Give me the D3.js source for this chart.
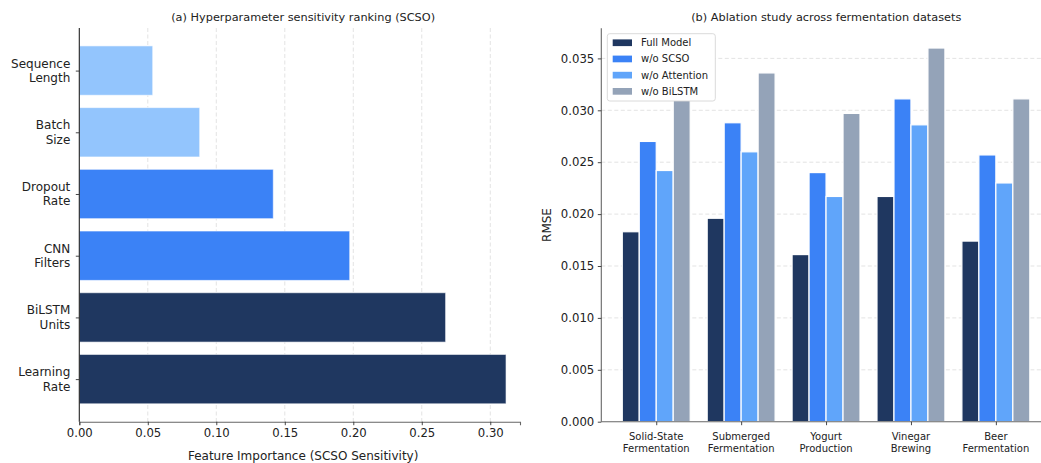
<!DOCTYPE html>
<html>
<head>
<meta charset="utf-8">
<script src="https://cdn.jsdelivr.net/npm/d3@7"></script>
<style>
  html, body { margin: 0; padding: 0; background: #fff; }
  svg { display: block; font-family: "DejaVu Sans", sans-serif; }
  svg text { font-family: "DejaVu Sans", sans-serif; }
</style>
</head>
<body>
<svg id="chart" width="1041" height="463"></svg>
<script>
// ---------- Data ----------
// Panel (a): ordered bottom -> top
const hyperParams = ["Learning\nRate", "BiLSTM\nUnits", "CNN\nFilters", "Dropout\nRate", "Batch\nSize", "Sequence\nLength"];
const sensitivity = [0.3115, 0.2674, 0.1974, 0.1416, 0.0879, 0.0536];
const sensitivityTicks = [0.00, 0.05, 0.10, 0.15, 0.20, 0.25, 0.30];

// Panel (b)
const datasets = ["Solid-State\nFermentation", "Submerged\nFermentation", "Yogurt\nProduction", "Vinegar\nBrewing", "Beer\nFermentation"];
const variants = ["Full Model", "w/o SCSO", "w/o Attention", "w/o BiLSTM"];
const rmseFull      = [0.0183, 0.0196, 0.0161, 0.0217, 0.0174];
const rmseNoSCSO    = [0.0270, 0.0288, 0.0240, 0.0311, 0.0257];
const rmseNoAttn    = [0.0242, 0.0260, 0.0217, 0.0286, 0.0230];
const rmseNoBiLSTM  = [0.0312, 0.0336, 0.0297, 0.0360, 0.0311];
const rmseTicks = [0.000, 0.005, 0.010, 0.015, 0.020, 0.025, 0.030, 0.035];

// ---------- Styles ----------
const FONT = '"DejaVu Sans", sans-serif';
const NAVY = "#1f3760", BLUE = "#3b82f6", LBLUE = "#60a5fa", PALE = "#93c5fd", GRAY = "#94a3b8";
const barColorsA = [NAVY, NAVY, BLUE, BLUE, PALE, PALE];
const variantColors = [NAVY, BLUE, LBLUE, GRAY];
const seriesB = [rmseFull, rmseNoSCSO, rmseNoAttn, rmseNoBiLSTM];

const svg = d3.select("#chart");
const TICK_FS = 11.7;

function styleAxis(g, color) {
  g.attr("font-family", FONT).attr("font-size", TICK_FS);
  g.select(".domain").attr("stroke", color).attr("stroke-width", 1.1);
  g.selectAll(".tick line").attr("stroke", "#333").attr("stroke-width", 0.9);
  g.selectAll(".tick text").attr("fill", "#222").attr("font-size", TICK_FS).attr("font-family", FONT);
}

// ---------- Panel (a) ----------
{
  const x = d3.scaleLinear().domain([0, 0.3217]).range([79.3, 520]);
  const y = d3.scaleLinear().domain([-0.69, 5.69]).range([421.7, 28]);
  const g = svg.append("g");

  // grid
  g.append("g").selectAll("line").data(sensitivityTicks.slice(1)).join("line")
    .attr("x1", d => x(d)).attr("x2", d => x(d))
    .attr("y1", y(5.69)).attr("y2", y(-0.69))
    .attr("stroke", "#dcdcdc").attr("stroke-width", 0.8).attr("stroke-dasharray", "4,2.5");

  // bars
  const h = y(0) - y(0.8);
  g.append("g").selectAll("rect").data(sensitivity).join("rect")
    .attr("x", x(0))
    .attr("y", (d, i) => y(i + 0.4))
    .attr("width", d => x(d) - x(0))
    .attr("height", h)
    .attr("fill", (d, i) => barColorsA[i])
    .attr("stroke", "#ffffff").attr("stroke-opacity", 0.6).attr("stroke-width", 1);

  // x axis
  const xa = g.append("g").attr("transform", `translate(0,${y(-0.69)})`)
    .call(d3.axisBottom(x).tickValues(sensitivityTicks).tickFormat(d3.format(".2f")).tickSize(3.5).tickPadding(3.5));
  styleAxis(xa, "#666");

  // y axis
  const ya = g.append("g").attr("transform", `translate(${x(0)},0)`)
    .call(d3.axisLeft(y).tickValues(d3.range(hyperParams.length)).tickFormat("").tickSize(3.5));
  styleAxis(ya, "#222");
  ya.select(".domain").attr("d", `M0,${y(5.69)}V${y(-0.69)}`);

  // y labels (two lines)
  const labs = g.append("g").selectAll("text").data(hyperParams).join("text")
    .attr("x", x(0) - 9)
    .attr("y", (d, i) => y(i))
    .attr("text-anchor", "end").attr("font-size", 12).attr("fill", "#222");
  labs.each(function(d) {
    const lines = d.split("\n");
    const t = d3.select(this);
    lines.forEach((ln, k) => {
      t.append("tspan").attr("x", x(0) - 9)
        .attr("dy", k === 0 ? `${-0.6 * (lines.length - 1) + 0.35}em` : "1.2em")
        .text(ln);
    });
  });

  g.append("text").attr("x", (79.3 + 520) / 2 + 3.5).attr("y", 20.5)
    .attr("text-anchor", "middle").attr("font-size", 11.3).attr("fill", "#222")
    .text("(a) Hyperparameter sensitivity ranking (SCSO)");
  g.append("text").attr("x", (79.3 + 520) / 2 + 3.5).attr("y", 459.5)
    .attr("text-anchor", "middle").attr("font-size", 12).attr("fill", "#222")
    .text("Feature Importance (SCSO Sensitivity)");
}

// ---------- Panel (b) ----------
{
  const x = d3.scaleLinear().domain([-0.647, 4.64]).range([601.3, 1050.2]);
  const y = d3.scaleLinear().domain([0, 0.0379]).range([421.7, 28.3]);
  const g = svg.append("g");

  // grid
  g.append("g").selectAll("line").data(rmseTicks.slice(1)).join("line")
    .attr("x1", x(-0.647)).attr("x2", x(4.64))
    .attr("y1", d => y(d)).attr("y2", d => y(d))
    .attr("stroke", "#dcdcdc").attr("stroke-width", 0.8).attr("stroke-dasharray", "4,2.5");

  const bw = 0.2;
  seriesB.forEach((vals, s) => {
    g.append("g").selectAll("rect").data(vals).join("rect")
      .attr("x", (d, i) => x(i + (s - 2) * bw))
      .attr("y", d => y(d))
      .attr("width", x(bw) - x(0))
      .attr("height", d => y(0) - y(d))
      .attr("fill", variantColors[s])
      .attr("stroke", "#ffffff").attr("stroke-width", 1.2);
  });

  // x axis
  const xa = g.append("g").attr("transform", `translate(0,${y(0)})`)
    .call(d3.axisBottom(x).tickValues(d3.range(datasets.length)).tickFormat("").tickSize(3.5));
  styleAxis(xa, "#666");
  xa.select(".domain").attr("d", `M${x(-0.647)},0H${x(4.64)}`);

  const cl = g.append("g").selectAll("text").data(datasets).join("text")
    .attr("y", y(0) + 18).attr("text-anchor", "middle").attr("font-size", 10).attr("fill", "#222");
  cl.each(function(d, i) {
    const t = d3.select(this);
    d.split("\n").forEach((ln, k) => {
      t.append("tspan").attr("x", x(i)).attr("dy", k === 0 ? 0 : "1.23em").text(ln);
    });
  });

  // y axis
  const ya = g.append("g").attr("transform", `translate(${x(-0.647)},0)`)
    .call(d3.axisLeft(y).tickValues(rmseTicks).tickFormat(d3.format(".3f")).tickSize(3.5).tickPadding(3.5));
  styleAxis(ya, "#666");
  ya.select(".domain").attr("d", `M0,${y(0.0379)}V${y(0)}`);

  g.append("text").attr("transform", `translate(551,${(28.3 + 421.7) / 2}) rotate(-90)`)
    .attr("text-anchor", "middle").attr("font-size", 12).attr("fill", "#222").text("RMSE");

  g.append("text").attr("x", 826.3).attr("y", 20.5)
    .attr("text-anchor", "middle").attr("font-size", 11.3).attr("fill", "#222")
    .text("(b) Ablation study across fermentation datasets");

  // legend
  const lg = g.append("g").attr("transform", "translate(607.3,33.7)");
  lg.append("rect").attr("width", 108).attr("height", 67.3).attr("rx", 2.5)
    .attr("fill", "#fff").attr("stroke", "#d6d6d6").attr("stroke-width", 0.9);
  variants.forEach((v, i) => {
    const cy = 9 + i * 16.2;
    lg.append("rect").attr("x", 5.4).attr("y", cy - 3.3).attr("width", 19.3).attr("height", 6.7)
      .attr("fill", variantColors[i]);
    lg.append("text").attr("x", 33.7).attr("y", cy).attr("dy", "0.35em")
      .attr("font-size", 10).attr("fill", "#222").text(v);
  });
}
</script>
</body>
</html>
